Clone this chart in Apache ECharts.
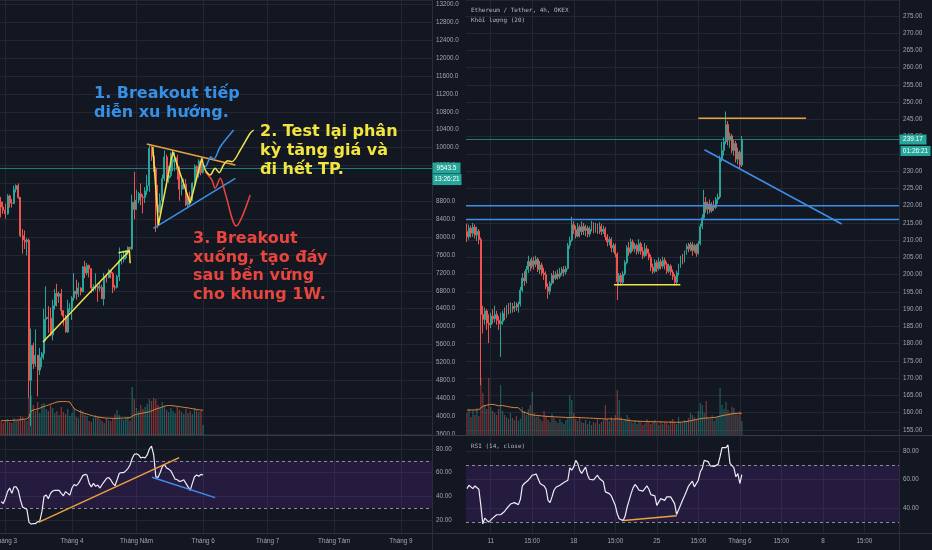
<!DOCTYPE html>
<html><head><meta charset="utf-8">
<script src="https://cdn.jsdelivr.net/npm/echarts@6/dist/echarts.min.js"></script>
<style>html,body{margin:0;padding:0;background:#131722;overflow:hidden}#c{width:932px;height:550px}</style>
</head><body><div id="c"></div>
<script>
// ---------- LEFT: BTC daily (index 0 = 28 Feb) ----------
const btcTickIdx = [2, 33, 63, 94, 124, 155, 186];
const btcTickLabels = ['Tháng 3', 'Tháng 4', 'Tháng Năm', 'Tháng 6', 'Tháng 7', 'Tháng Tám', 'Tháng 9'];
const btcSlots = 201;
// [open, close, low, high]
const btcCandles = [
[8785,8672,8440,8900],[8672,8599,8520,8790],[8599,8523,8410,8750],[8523,8921,8500,8960],[8921,8760,8660,8950],
[8760,8750,8660,8850],[8750,9068,8740,9150],[9068,9153,9000,9180],[9153,8890,8850,9200],[8890,8033,8000,8900],
[8033,7935,7630,8180],[7935,7895,7735,8150],[7895,7935,7590,7980],[7935,4800,4410,7966],[4800,5578,3782,5955],
[5578,5172,5055,5640],[5172,5361,5100,5940],[5361,5028,4442,5365],[5028,5312,4921,5525],[5312,5393,5092,5436],
[5393,6162,5260,6400],[6162,6208,5670,6900],[6208,6186,5860,6457],[6186,5816,5785,6428],[5816,6469,5690,6600],
[6469,6744,6380,6840],[6744,6677,6450,6957],[6677,6737,6530,6780],[6737,6359,6253,6842],[6359,6236,6024,6359],
[6236,5881,5866,6266],[5881,6394,5858,6599],[6394,6410,6321,6523],[6410,6642,6150,6679],[6642,6795,6575,7198],
[6795,6733,6603,7048],[6733,6862,6663,6990],[6862,6777,6700,6881],[6777,7337,6771,7355],[7337,7201,7085,7470],
[7201,7370,7150,7420],[7370,7294,7100,7383],[7294,6865,6750,7310],[6865,6887,6780,6945],[6887,6904,6811,7190],
[6904,6860,6555,6905],[6860,6877,6785,6980],[6877,6622,6619,6935],[6622,7116,6474,7200],[7116,7096,6985,7150],
[7096,7257,7084,7294],[7257,7189,7080,7264],[7189,6881,6750,7220],[6881,6880,6808,6935],[6880,7117,6852,7156],
[7117,7482,7020,7770],[7482,7505,7388,7615],[7505,7539,7431,7700],[7539,7694,7500,7700],[7694,7774,7606,7792],
[7774,7738,7652,7780],[7738,8778,7710,8950],[8778,8620,8400,9460],[8620,8826,8616,9059],[8826,8972,8757,9010],
[8972,8895,8711,9200],[8895,8885,8531,8956],[8885,9031,8760,9118],[9031,9149,8940,9395],[9149,9986,9012,10067],
[9986,9809,9705,10040],[9809,9540,9458,9900],[9540,8722,8117,9574],[8722,8561,8200,9168],[8561,8810,8528,8978],
[8810,9310,8792,9398],[9310,9792,9256,9939],[9792,9316,9130,9846],[9316,9381,9220,9590],[9381,9681,9330,9888],
[9681,9733,9474,9950],[9733,9775,9474,9897],[9775,9511,9284,9842],[9511,9069,8815,9578],[9069,9171,8933,9271],
[9171,9180,9070,9307],[9180,8720,8700,9298],[8720,8900,8642,8979],[8900,8841,8700,9017],[8841,9204,8811,9225],
[9204,9575,9110,9625],[9575,9427,9330,9605],[9427,9697,9331,9740],[9697,9448,9381,9700],[9448,9543.5,9420,9580]
];
const btcVolume = [14,12,15,16,13,12,17,14,15,19,18,15,14,38,40,30,24,33,22,31,
32,26,24,30,27,22,24,20,28,23,21,26,19,22,27,18,17,25,24,20,19,14,13,17,20,
19,16,14,12,17,15,14,16,21,25,20,16,15,17,18,14,48,36,27,24,30,26,28,31,
36,34,37,36,30,27,33,29,25,23,27,24,22,28,25,23,21,26,22,24,21,27,25,23,24,10];
const btcVolMA = [14.3,14.3,14.4,14.5,14.5,14.6,14.8,14.9,15.0,15.3,15.6,15.9,16.1,18.0,24.0,25.0,25.5,26.2,26.8,27.8,
28.5,29.3,30.0,30.8,31.5,32.2,33.0,33.3,33.5,33.5,33.4,33.3,33.0,29.5,26.5,25.0,24.0,23.0,22.2,21.5,
21.0,20.2,19.6,19.0,18.4,18.0,17.7,17.4,17.1,16.9,16.8,16.7,16.6,16.7,16.7,16.8,16.9,17.0,17.1,17.2,
17.3,18.8,20.0,20.7,21.1,21.5,22.0,22.4,22.8,23.3,24.2,25.0,25.9,26.6,27.3,28.0,28.8,29.3,29.5,29.4,
29.2,28.9,28.6,28.3,28.0,27.7,27.4,27.1,26.7,26.3,26.0,25.6,25.2,25.0,24.6];
const btcRsi = [35.5,34,38,44,47,42.5,48,48,45,37,
31,30,29,18,16.5,17,17,18.5,19,27,
40,41,38,42.5,44.5,45,45,45,42.5,40.5,
44,42.5,41,47,50,49,51,54,57.5,58.5,
58,51,48,51,48.5,49.5,47,50,52.5,55,
56,54,51,49,54,59.5,60,60,61.5,63.5,
66.5,72,75.5,76,75,72.5,73,72.5,75,80,
82.5,75,56.5,56,60,65,67,64,63,61.5,
58,54.5,54,52.5,53,54,51,48,45,51,
56.5,58,57,58.5,58];
// annotation drawings, [slot index, price]
const btcArrowLine = [[19.5,5657],[59.7,7697]];
const btcArrowHead = [[54.6,7653],[59.7,7697],[60.05,7415]];
const btcTriTop = [[67.8,10082],[109,9612]];
const btcTriBottom = [[70.9,8197],[109,9315]];
const btcZigzag = [[70.6,10021],[73.2,8271],[79.9,9910],[88,8756],[93.4,9762]];
const btcPathYellow = [[93.4,9762],[95,9501],[97.3,9389],[99.6,9538],[101.5,9440],[103.5,9612],[105.4,9708],[107.4,9686],[111.3,9947],[115.9,10321],[117.5,10395]];
const btcPathBlue = [[93.4,9612],[95.0,9575],[97.6,9799],[98.9,9740],[102.0,10021],[108.2,10395]];
const btcPathRed = [[95,9463],[98.1,9277],[99.6,9092],[102,9315],[104.3,8980],[109.4,8249],[115.9,8942]];
const btcRsiTrendUp = [[17.4,18],[82.9,72.7]];
const btcRsiTrendDown = [[70.2,56.1],[99.6,38.9]];

// ---------- RIGHT: ETH/USDT 4h (index 0 = 9 May 00:00) ----------
const ethTickIdx = [12, 33, 54, 75, 96, 117, 138, 159, 180, 201];
const ethTickLabels = ['11', '15:00', '18', '15:00', '25', '15:00', 'Tháng 6', '15:00', '8', '15:00'];
const ethSlots = 219;
const ethCandles = [
[212.5,211.0,209.5,214.8],[211.0,213.5,210.2,214.5],[213.5,212.0,210.8,214.2],[212.0,213.8,211.0,215.0],[213.8,211.5,210.5,214.6],
[211.5,212.6,209.8,213.9],[212.6,210.2,208.8,213.2],[210.2,188.5,168.0,210.8],[188.5,187.0,183.0,191.0],[187.0,189.5,185.5,190.5],
[189.5,186.0,184.0,190.0],[186.0,185.5,180.2,188.5],[185.5,188.0,184.5,189.0],[188.0,187.2,185.8,190.0],[187.2,188.5,186.2,191.0],
[188.5,186.8,185.5,189.5],[186.8,185.8,184.0,188.0],[185.8,186.5,176.2,189.0],[186.5,188.8,185.5,189.6],[188.8,188.0,186.8,190.5],
[188.0,190.5,187.5,191.2],[190.5,189.8,188.5,191.8],[189.8,191.0,188.8,192.0],[191.0,190.2,189.0,191.8],[190.2,190.8,189.2,192.2],
[190.8,190.6,189.5,192.0],[190.6,191.5,189.0,192.2],[191.5,195.5,190.8,196.5],[195.5,199.0,195.0,200.5],[199.0,198.2,196.8,201.0],
[198.2,201.5,197.5,202.5],[201.5,203.8,200.5,205.5],[203.8,202.5,201.0,204.5],[202.5,204.0,201.8,205.0],[204.0,203.0,201.5,205.2],
[203.0,204.5,202.2,205.5],[204.5,201.5,200.8,205.0],[201.5,202.8,200.2,204.0],[202.8,200.5,199.8,203.5],[200.5,200.0,198.5,202.0],
[200.0,196.5,195.8,201.0],[196.5,195.2,193.0,197.5],[195.2,197.5,194.2,198.2],[197.5,199.8,196.8,200.5],[199.8,199.0,197.5,201.2],
[199.0,200.2,198.5,201.0],[200.2,199.5,198.6,201.5],[199.5,200.5,198.8,202.0],[200.5,201.5,199.8,202.2],[201.5,200.8,199.5,202.5],
[200.8,201.8,200.0,202.6],[201.8,208.5,201.5,209.2],[208.5,210.0,207.5,211.0],[210.0,214.5,209.5,216.8],[214.5,213.0,211.8,215.5],
[213.0,211.2,210.5,214.2],[211.2,213.8,210.8,215.0],[213.8,212.5,210.8,214.5],[212.5,214.0,211.5,215.5],[214.0,212.8,211.5,215.0],
[212.8,213.5,211.2,214.5],[213.5,211.8,210.8,214.2],[211.8,213.2,211.0,214.0],[213.2,214.5,212.5,215.6],[214.5,213.0,212.0,215.2],
[213.0,214.0,212.2,215.0],[214.0,213.2,211.8,214.8],[213.2,214.0,211.8,215.2],[214.0,212.5,211.5,214.8],[212.5,213.2,211.8,214.2],
[213.2,211.0,210.0,213.8],[211.0,209.5,208.2,211.8],[209.5,210.2,208.5,211.0],[210.2,207.8,206.5,210.8],[207.8,208.5,206.5,209.2],
[208.5,206.0,205.0,209.0],[206.0,198.0,192.7,206.5],[198.0,199.8,196.8,200.5],[199.8,197.8,196.8,200.5],[197.8,200.2,197.2,201.0],
[200.2,203.5,199.8,204.2],[203.5,207.8,203.0,208.5],[207.8,206.5,205.5,209.5],[206.5,209.5,206.0,210.5],[209.5,207.5,206.8,210.2],
[207.5,208.5,206.5,209.2],[208.5,206.8,205.8,209.0],[206.8,209.0,206.0,210.3],[209.0,206.8,205.8,209.5],[206.8,205.5,204.5,208.0],
[205.5,207.5,205.0,209.2],[207.5,206.2,205.5,208.5],[206.2,205.0,204.2,207.5],[205.0,202.2,201.0,205.8],[202.2,201.0,200.2,203.2],
[201.0,203.5,200.5,204.5],[203.5,201.8,200.8,204.2],[201.8,203.8,201.2,205.0],[203.8,202.5,201.5,204.5],[202.5,204.2,201.8,205.2],
[204.2,203.0,201.5,205.0],[203.0,201.0,200.2,203.8],[201.0,202.5,200.5,203.2],[202.5,200.8,199.8,203.0],[200.8,199.5,198.5,201.5],
[199.5,197.8,196.8,200.2],[197.8,200.5,197.0,201.2],[200.5,202.5,199.8,203.2],[202.5,204.8,202.0,205.5],[204.8,204.0,203.0,206.0],
[204.0,206.5,203.5,207.0],[206.5,208.2,205.8,209.0],[208.2,207.5,206.5,209.2],[207.5,208.8,206.8,209.5],[208.8,207.0,205.5,209.5],
[207.0,208.5,206.5,209.0],[208.5,206.2,205.2,209.0],[206.2,209.0,205.8,209.8],[209.0,214.0,208.5,214.8],[214.0,216.5,213.2,217.5],
[216.5,221.0,215.8,224.6],[221.0,219.0,218.0,222.5],[219.0,220.5,217.5,221.2],[220.5,218.5,217.8,221.8],[218.5,220.2,218.0,221.0],
[220.2,219.5,218.5,221.5],[219.5,221.8,219.0,222.5],[221.8,222.5,220.5,223.5],[222.5,233.5,222.0,234.5],[233.5,236.0,232.8,238.5],
[236.0,238.5,234.5,239.8],[238.5,243.5,237.8,247.3],[243.5,239.0,237.5,244.5],[239.0,240.2,236.8,241.2],[240.2,236.0,235.2,240.8],
[236.0,238.0,234.5,239.0],[238.0,233.5,232.5,238.8],[233.5,235.5,232.0,236.8],[235.5,231.8,230.8,236.0],[231.8,239.17,231.2,240.2]
];
const ethVolume = [22,26,18,24,20,27,19,57,42,30,26,57,28,24,22,20,26,50,
24,20,18,16,22,17,15,19,14,16,28,24,20,26,30,43,
22,18,20,16,14,24,19,15,13,21,17,14,12,16,13,11,15,18,40,35,
22,16,14,18,13,12,15,11,14,10,13,12,16,11,13,15,30,16,14,18,15,20,45,35,
18,14,16,20,17,13,12,15,11,14,13,10,12,16,14,11,13,15,12,10,
14,11,13,12,10,14,16,12,11,18,13,12,15,14,17,22,20,18,16,24,
32,30,22,34,18,16,20,14,17,19,47,30,26,33,25,22,28,27,22,20,24,14];
const ethVolMA = [25.0,25.1,25.0,25.2,25.0,25.1,25.3,27.2,28.8,29.5,29.8,30.5,30.7,
30.6,30.3,29.8,29.2,29.8,29.5,29.0,28.6,28.2,27.9,27.6,27.4,27.3,27.3,
25.3,23.3,22.8,22.0,21.2,20.5,20.0,
19.8,19.6,19.5,19.2,19.0,18.9,18.7,18.6,18.4,18.3,
18.2,18.1,18.0,17.9,17.8,17.7,17.6,17.5,17.4,17.6,17.8,17.6,17.5,17.4,17.3,
17.2,17.1,17.0,16.9,16.8,16.7,16.6,16.5,16.4,16.3,16.1,16.0,
16.0,16.1,16.0,15.9,16.0,16.2,16.0,
15.7,15.4,15.1,14.8,14.5,14.2,14.0,
13.9,13.8,13.8,13.7,13.6,13.5,13.5,13.4,13.4,13.3,
13.2,13.2,13.1,13.1,13.0,13.0,12.9,12.9,12.8,12.8,12.7,12.7,12.7,
12.8,13.0,13.2,13.5,13.8,14.2,14.6,15.0,15.5,16.0,
16.3,16.6,16.8,17.0,17.1,17.2,17.3,
17.5,17.8,18.2,18.8,19.3,19.7,20.0,
20.4,20.8,21.2,21.5,21.7,21.7,21.7,21.6];
const ethRsi = [53.6,56,56.5,53.6,55.5,55,53.2,41.9,28.9,32.9,
32,30.1,31.3,32.9,32.9,35.3,36,35.3,36.7,37.6,
39.5,40,42.8,41.9,43.8,43.8,42.4,46.1,55.5,57.2,
56.5,59.5,61.2,63,63.5,63.8,63,57.2,56.5,55.5,
53.2,45.4,43.8,47.8,52.5,54.6,55.5,56,56.5,57.9,
58.8,59.5,68.2,66.6,68.9,73.4,71.3,66.6,64.2,66.6,
68.7,63,60.2,60.7,59.8,61.2,63,60.7,59.8,58.4,
51.3,51.8,50.1,48.5,47.1,41.9,36,32.5,31.5,31.2,
34.4,40.7,45.4,50.1,54.1,56.5,54.8,52.5,51.3,51.8,
52.5,55.5,53.2,49.4,48,48.5,41.9,41.9,46.6,46.1,
45.4,47.8,48.5,47.8,46.6,43.1,35.5,36.2,41.9,45.4,
48.5,51.8,55.3,56.7,58.8,54.8,53.6,59.5,65.4,67.8,
73.4,74.8,72.5,69.6,68.2,69.2,69.6,70.6,76,82.4,
81.4,82.4,84.2,71.3,70.1,68.2,61.9,64.2,57.2,63.5];
const ethLevels = [220, 216];
const ethTop = [[117.0,245.35],[171.5,245.35]];
const ethTrend = [[120.1,236.2],[189.5,214.7]];
const ethBase = [[74.3,197.1],[107.9,197.1]];
const ethRsiDiv = [[79.3,31.3],[106.1,34.6]];
const btcCountdown = '13:26:21';
const ethCountdown = '01:26:21';

// ---------- styling ----------
const BG = '#131722', GRID = '#232733', TXT = '#a3a6af';
const UP = '#26a69a', DN = '#ef5350';
const UPV = 'rgba(38,166,154,0.5)', DNV = 'rgba(239,83,80,0.5)';
const YEL = '#f2e34b', ORG = '#eba23c', BLU = '#3d8fe6', RED = '#e8453c';
const AXF = {color: TXT, fontSize: 6.3, fontFamily: 'Liberation Sans'};

function catAxis(g, slots, tIdx, tLab, showLab) {
  return {type: 'category', gridIndex: g, data: Array.from({length: slots}, (_, i) => String(i)),
    boundaryGap: true, axisLine: {show: false}, axisTick: {show: false},
    axisLabel: Object.assign({show: showLab, margin: 5, interval: i => tIdx.indexOf(i) >= 0,
      formatter: (v, i) => { const k = tIdx.indexOf(i); return k >= 0 ? tLab[k] : ''; }}, AXF),
    splitLine: {show: true, alignWithLabel: true, interval: i => tIdx.indexOf(i) >= 0, lineStyle: {color: GRID, width: 1}}};
}
function hiddenCat(g, slots) {
  return {type: 'category', gridIndex: g, data: Array.from({length: slots}, (_, i) => String(i)), boundaryGap: true, show: false};
}
function overlay(g, slots) { return {type: 'value', gridIndex: g, min: -0.5, max: slots - 0.5, show: false}; }
function priceAxis(g, min, max, interval, dec) {
  return {type: 'value', gridIndex: g, position: 'right', min: min, max: max, interval: interval, scale: true,
    axisLine: {show: false}, axisTick: {show: false},
    axisLabel: Object.assign({margin: 4, showMaxLabel: false, hideOverlap: false, formatter: v => v.toFixed(dec)}, AXF),
    splitLine: {show: true, lineStyle: {color: GRID, width: 1}}};
}
function rsiAxis(g, min, max, vals) {
  return {type: 'value', gridIndex: g, position: 'right', min: min, max: max,
    axisLine: {show: false}, axisTick: {show: false, customValues: vals},
    axisLabel: Object.assign({margin: 4, hideOverlap: false, customValues: vals, formatter: v => v.toFixed(2)}, AXF),
    splitLine: {show: true, lineStyle: {color: GRID, width: 1}}};
}
function line(xi, yi, data, color, width, smooth) {
  return {type: 'line', xAxisIndex: xi, yAxisIndex: yi, data: data, showSymbol: false, symbol: 'none', silent: true,
    smooth: smooth || false, lineStyle: {color: color, width: width || 1.5}, z: 6, clip: false};
}
function volData(c, v) { return v.map((x, i) => ({value: x, itemStyle: {color: c[i][1] >= c[i][0] ? UPV : DNV}})); }
function rsiBand() {
  return {markArea: {silent: true, itemStyle: {color: 'rgba(125,50,210,0.17)'}, data: [[{yAxis: 70}, {yAxis: 30}]]},
          markLine: {silent: true, symbol: 'none', label: {show: false}, lineStyle: {color: '#8a8d98', type: [3, 3], width: 1}, data: [{yAxis: 70}, {yAxis: 30}]}};
}
const candleStyle = {color: UP, color0: DN, borderColor: UP, borderColor0: DN, borderWidth: 1};
const btcLast = btcCandles[btcCandles.length - 1][1];
const ethLast = ethCandles[ethCandles.length - 1][1];

const chart = echarts.init(document.getElementById('c'));
const option = {
  backgroundColor: BG, animation: false,
  grid: [
    {left: 0, top: 0, width: 432, height: 434, outerBoundsMode: 'none'},
    {left: 0, top: 335, width: 432, height: 100, outerBoundsMode: 'none'},
    {left: 0, top: 436, width: 432, height: 97, outerBoundsMode: 'none'},
    {left: 466, top: 0, width: 433, height: 430, outerBoundsMode: 'none'},
    {left: 466, top: 335, width: 433, height: 100, outerBoundsMode: 'none'},
    {left: 466, top: 436, width: 433, height: 97, outerBoundsMode: 'none'}
  ],
  xAxis: [
    catAxis(0, btcSlots, btcTickIdx, btcTickLabels, false),
    hiddenCat(1, btcSlots),
    catAxis(2, btcSlots, btcTickIdx, btcTickLabels, true),
    catAxis(3, ethSlots, ethTickIdx, ethTickLabels, false),
    hiddenCat(4, ethSlots),
    catAxis(5, ethSlots, ethTickIdx, ethTickLabels, true),
    overlay(0, btcSlots), overlay(2, btcSlots), overlay(3, ethSlots), overlay(5, ethSlots)
  ],
  yAxis: [
    priceAxis(0, 3600, 13300, 400, 1),
    {type: 'value', gridIndex: 1, min: 0, max: 100, show: false},
    rsiAxis(2, 9, 91, [20, 40, 60, 80]),
    priceAxis(3, 155, 279.6, 5, 2),
    {type: 'value', gridIndex: 4, min: 0, max: 100, show: false},
    rsiAxis(5, 22.5, 90.5, [40, 60, 80])
  ],
  series: [
    {type: 'bar', xAxisIndex: 1, yAxisIndex: 1, data: volData(btcCandles, btcVolume), barWidth: '60%', silent: true, z: 1},
    Object.assign(line(1, 1, btcVolMA, '#d9843a', 1), {z: 2}),
    {type: 'candlestick', xAxisIndex: 0, yAxisIndex: 0, data: btcCandles, barWidth: '70%', itemStyle: candleStyle, z: 3,
      markLine: {silent: true, symbol: 'none', label: {show: false}, lineStyle: {color: 'rgba(38,166,154,0.7)', type: 'solid', width: 1}, data: [{yAxis: btcLast}]}},
    line(6, 0, btcArrowLine, YEL, 1.5),
    line(6, 0, btcArrowHead, YEL, 1.5),
    line(6, 0, btcTriTop, ORG, 1.5),
    line(6, 0, btcTriBottom, BLU, 1.5),
    line(6, 0, btcZigzag, YEL, 1.5),
    line(6, 0, btcPathRed, RED, 1.5, 0.3),
    line(6, 0, btcPathBlue, BLU, 1.5, 0.3),
    line(6, 0, btcPathYellow, YEL, 1.5, 0.3),
    Object.assign(line(2, 2, btcRsi, '#ececf4', 1.2), rsiBand()),
    line(7, 2, btcRsiTrendUp, ORG, 1.5),
    line(7, 2, btcRsiTrendDown, BLU, 1.5),

    {type: 'bar', xAxisIndex: 4, yAxisIndex: 4, data: volData(ethCandles, ethVolume), barWidth: '60%', silent: true, z: 1},
    Object.assign(line(4, 4, ethVolMA, '#d9843a', 1), {z: 2}),
    {type: 'candlestick', xAxisIndex: 3, yAxisIndex: 3, data: ethCandles, barWidth: '70%', itemStyle: candleStyle, z: 3,
      markLine: {silent: true, symbol: 'none', label: {show: false}, lineStyle: {color: 'rgba(38,166,154,0.7)', type: 'solid', width: 1}, data: [{yAxis: ethLast}]}},
    line(8, 3, [[-0.5, ethLevels[0]], [ethSlots - 0.5, ethLevels[0]]], BLU, 1.5),
    line(8, 3, [[-0.5, ethLevels[1]], [ethSlots - 0.5, ethLevels[1]]], BLU, 1.5),
    line(8, 3, ethTop, ORG, 1.5),
    line(8, 3, ethTrend, BLU, 1.5),
    line(8, 3, ethBase, YEL, 1.5),
    Object.assign(line(5, 5, ethRsi, '#ececf4', 1.2), rsiBand()),
    line(9, 5, ethRsiDiv, ORG, 1.5)
  ]
};
chart.setOption(option);

const yb = chart.convertToPixel({yAxisIndex: 0}, btcLast);
const ye = chart.convertToPixel({yAxisIndex: 3}, ethLast);
const big = {fontFamily: 'DejaVu Sans', fontWeight: 'bold', fontSize: 16, lineHeight: 19, align: 'left', verticalAlign: 'top'};
const small = {fontFamily: 'DejaVu Sans Mono', fontSize: 6, fill: '#b2b5be', align: 'left', verticalAlign: 'top'};
const boxTxt = {fontFamily: 'Liberation Sans', fontSize: 6.5, fill: '#ffffff', align: 'center', verticalAlign: 'middle'};
chart.setOption({graphic: {elements: [
  {type: 'line', shape: {x1: 0, y1: 435.5, x2: 932, y2: 435.5}, style: {stroke: '#363a45', lineWidth: 1}, z: 50, silent: true},
  {type: 'line', shape: {x1: 0, y1: 533.5, x2: 932, y2: 533.5}, style: {stroke: '#2e323d', lineWidth: 1}, z: 50, silent: true},
  {type: 'line', shape: {x1: 432.5, y1: 0, x2: 432.5, y2: 550}, style: {stroke: '#2a2e39', lineWidth: 1}, z: 50, silent: true},
  {type: 'line', shape: {x1: 899.5, y1: 0, x2: 899.5, y2: 550}, style: {stroke: '#2a2e39', lineWidth: 1}, z: 50, silent: true},
  {type: 'text', x: 94, y: 84, z: 60, silent: true, style: Object.assign({text: '1. Breakout tiếp\ndiễn xu hướng.', fill: '#3590e6'}, big)},
  {type: 'text', x: 260, y: 122, z: 60, silent: true, style: Object.assign({text: '2. Test lại phân\nkỳ tăng giá và\nđi hết TP.', fill: '#f2e53f'}, big)},
  {type: 'text', x: 193, y: 230, z: 60, silent: true, style: Object.assign({text: '3. Breakout\nxuống, tạo đáy\nsau bền vững\ncho khung 1W.', fill: '#e8453c'}, big, {lineHeight: 18.5})},
  {type: 'text', x: 471, y: 7, z: 60, silent: true, style: Object.assign({text: 'Ethereum / Tether, 4h, OKEX'}, small)},
  {type: 'text', x: 471, y: 17, z: 60, silent: true, style: Object.assign({text: 'Khối lượng (20)'}, small)},
  {type: 'text', x: 471, y: 443, z: 60, silent: true, style: Object.assign({text: 'RSI (14, close)'}, small)},
  {type: 'rect', shape: {x: 432.5, y: yb - 5.5, width: 28, height: 11}, style: {fill: UP}, z: 70, silent: true},
  {type: 'text', x: 446.5, y: yb, z: 71, silent: true, style: Object.assign({text: btcLast.toFixed(1)}, boxTxt)},
  {type: 'rect', shape: {x: 432.5, y: yb + 6, width: 29, height: 11}, style: {fill: UP}, z: 70, silent: true},
  {type: 'text', x: 447, y: yb + 11.5, z: 71, silent: true, style: Object.assign({text: btcCountdown}, boxTxt)},
  {type: 'rect', shape: {x: 899.5, y: ye - 5, width: 27, height: 10}, style: {fill: UP}, z: 70, silent: true},
  {type: 'text', x: 913, y: ye, z: 71, silent: true, style: Object.assign({text: ethLast.toFixed(2)}, boxTxt)},
  {type: 'rect', shape: {x: 900.5, y: ye + 6.5, width: 30, height: 10}, style: {fill: UP}, z: 70, silent: true},
  {type: 'text', x: 915.5, y: ye + 11.5, z: 71, silent: true, style: Object.assign({text: ethCountdown}, boxTxt)}
]}});
</script></body></html>
